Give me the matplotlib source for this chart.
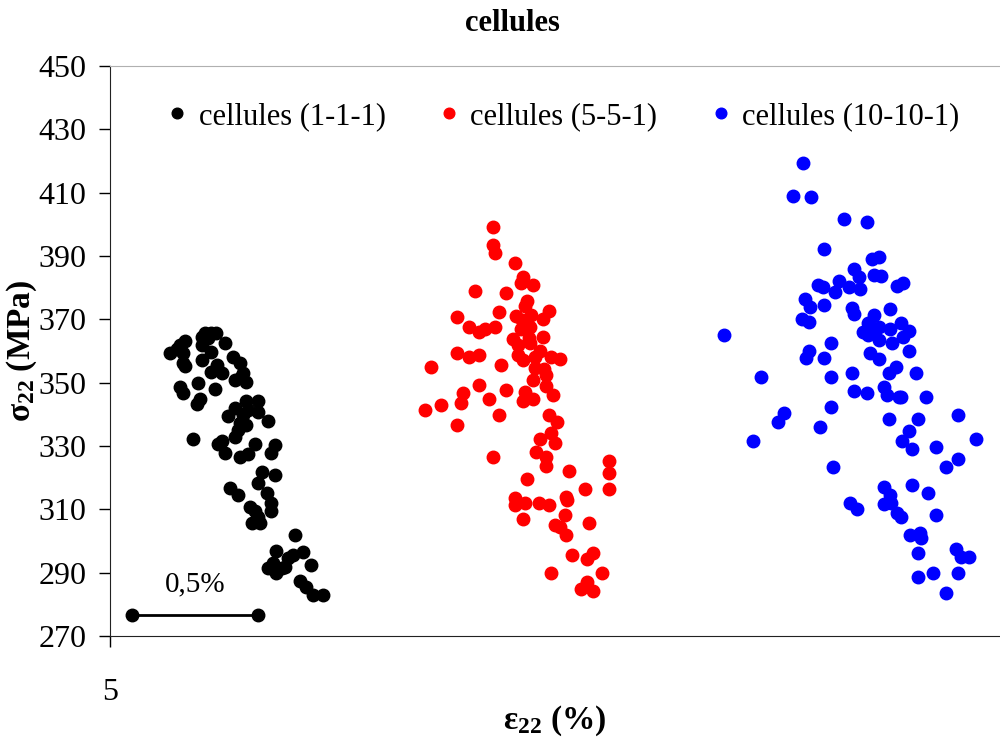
import matplotlib
matplotlib.use("Agg")
import matplotlib.pyplot as plt

plt.rcParams['font.family'] = ['Liberation Serif', 'DejaVu Serif']
plt.rcParams['mathtext.fontset'] = 'custom'
plt.rcParams['mathtext.rm'] = 'Liberation Serif'
plt.rcParams['mathtext.bf'] = 'Liberation Serif:bold'

# cellules (1-1-1)
x_111 = [5.377, 5.403, 5.421, 5.364, 5.390, 5.456, 5.298, 5.278, 5.238, 5.288,
         5.265, 5.364, 5.403, 5.364, 5.291, 5.298, 5.489, 5.516, 5.423, 5.403,
         5.443, 5.529, 5.496, 5.542, 5.522, 5.350, 5.417, 5.278, 5.288, 5.357,
         5.344, 5.542, 5.589, 5.496, 5.470, 5.549, 5.589, 5.628, 5.516, 5.542,
         5.509, 5.496, 5.443, 5.331, 5.430, 5.456, 5.516, 5.549, 5.575, 5.655,
         5.641, 5.602, 5.655, 5.476, 5.589, 5.509, 5.556, 5.622, 5.641, 5.575,
         5.641, 5.562, 5.595, 5.589, 5.734, 5.661, 5.727, 5.767, 5.708, 5.628,
         5.648, 5.694, 5.800, 5.661, 5.754, 5.780, 5.807, 5.847, 5.681, 5.529]
y_111 = [365.6, 365.8, 365.6, 364.5, 364.0, 362.6, 363.3, 361.9, 359.5, 359.3,
         360.5, 361.9, 359.8, 357.2, 356.1, 355.3, 358.2, 356.3, 355.6, 353.5,
         352.9, 352.9, 350.8, 350.3, 351.9, 350.0, 347.9, 348.5, 346.6, 344.7,
         343.3, 344.3, 344.3, 341.9, 339.3, 341.4, 340.8, 338.0, 337.2, 336.6,
         335.1, 332.9, 331.7, 332.1, 330.6, 327.7, 326.6, 327.5, 330.6, 330.3,
         327.7, 321.9, 320.8, 316.6, 318.4, 314.5, 310.8, 315.1, 311.9, 309.3,
         309.3, 305.6, 305.6, 307.7, 301.9, 296.9, 295.6, 296.6, 294.5, 291.4,
         292.9, 291.9, 292.4, 289.8, 287.2, 285.6, 283.0, 283.0, 291.4, 339.8]

# cellules (5-5-1)
x_551 = [6.521, 6.521, 6.528, 6.607, 6.640, 6.630, 6.680, 6.449, 6.574, 6.654,
         6.647, 6.545, 6.742, 6.379, 6.614, 6.673, 6.720, 6.634, 6.425, 6.464,
         6.488, 6.528, 6.630, 6.667, 6.601, 6.664, 6.720, 6.621, 6.667, 6.379,
         6.425, 6.466, 6.621, 6.640, 6.707, 6.687, 6.753, 6.786, 6.274, 6.552,
         6.687, 6.722, 6.730, 6.680, 6.733, 6.759, 6.464, 6.402, 6.574, 6.647,
         6.640, 6.680, 6.393, 6.314, 6.504, 6.250,
         6.379, 6.544, 6.742, 6.773, 6.753, 6.709, 6.766, 6.693, 6.733, 6.733,
         6.521, 6.823, 6.980, 6.980, 6.654, 6.885, 6.980, 6.607, 6.607, 6.647,
         6.704, 6.744, 6.812, 6.815, 6.640, 6.806, 6.766, 6.786, 6.812, 6.901,
         6.836, 6.916, 6.894, 6.750, 6.955, 6.894, 6.869, 6.918]
y_551 = [399.1, 393.5, 390.9, 387.7, 383.5, 381.4, 380.9, 379.0, 378.2, 375.8,
         374.2, 372.4, 372.6, 370.6, 371.2, 371.3, 370.0, 369.8, 367.5, 366.1,
         366.9, 367.5, 366.9, 367.5, 363.8, 364.0, 364.4, 361.9, 362.4, 359.3,
         358.0, 358.7, 358.7, 357.2, 360.1, 358.0, 358.0, 357.4, 354.9, 355.5,
         354.5, 354.2, 352.4, 350.9, 349.0, 346.1, 349.3, 346.6, 347.7, 346.9,
         344.3, 344.7, 343.5, 342.9, 344.7, 341.4,
         336.6, 339.8, 339.8, 337.7, 334.0, 332.1, 330.8, 328.2, 326.6, 323.8,
         326.4, 322.0, 325.2, 321.4, 319.5, 316.3, 316.3, 313.5, 311.4, 311.9,
         311.9, 311.3, 314.0, 312.9, 306.8, 308.1, 305.0, 304.3, 301.8, 305.6,
         295.6, 296.1, 294.2, 289.8, 289.8, 286.9, 284.7, 284.1]

# cellules (10-10-1)
x_10101 = [7.751, 7.711, 7.783, 7.916, 8.005, 7.837, 8.026, 8.053, 7.956, 7.973,
           8.035, 8.062, 8.124, 8.148, 7.811, 7.830, 7.894, 7.877, 7.934, 7.980,
           7.758, 7.781, 7.837, 7.947, 7.956, 8.035, 8.099, 7.748, 7.775, 8.009,
           8.053, 7.989, 8.009, 8.035, 8.099, 8.139, 8.172, 8.148, 8.053, 8.106,
           7.440, 7.861, 7.775, 7.764, 7.837, 8.018, 8.053, 8.172, 8.121, 8.095,
           8.201, 7.947, 7.861, 7.583,
           7.956, 8.005, 8.075, 8.084, 8.132, 8.141, 8.240, 7.861, 7.678, 7.654,
           7.821, 7.553, 8.092, 8.210, 8.369, 8.172, 8.145, 8.185, 8.280, 8.439,
           8.369, 8.320, 7.870, 8.075, 8.099, 8.185, 8.250, 7.940, 7.965, 8.075,
           8.102, 8.124, 8.141, 8.280, 8.178, 8.218, 8.221, 8.210, 8.360, 8.379,
           8.410, 8.210, 8.267, 8.369, 8.320]
y_10101 = [419.3, 409.0, 408.5, 401.6, 400.8, 392.1, 388.9, 389.6, 385.8, 383.3,
           384.0, 383.8, 380.6, 381.4, 380.7, 380.1, 382.1, 378.7, 380.1, 379.5,
           376.3, 373.8, 374.5, 373.5, 371.7, 371.4, 373.2, 370.0, 369.3, 368.9,
           367.7, 366.1, 365.0, 366.1, 366.8, 368.9, 366.2, 364.3, 363.5, 362.4,
           364.9, 362.4, 360.1, 357.7, 357.9, 359.5, 357.4, 359.9, 354.8, 352.9,
           352.9, 352.9, 351.7, 351.7,
           347.2, 346.6, 348.7, 346.1, 345.4, 345.4, 345.4, 342.2, 340.3, 337.7,
           335.9, 331.5, 338.4, 338.4, 339.7, 334.6, 331.5, 328.9, 329.6, 332.1,
           325.8, 323.3, 323.3, 316.9, 314.5, 317.6, 315.1, 311.9, 310.0, 311.7,
           311.9, 308.7, 307.5, 308.1, 301.9, 302.4, 300.8, 296.1, 297.4, 294.8,
           294.8, 288.5, 289.8, 289.8, 283.5]

# 0,5% scale bar
bar_x = [5.087, 5.587]
bar_y = [276.6, 276.6]

fig = plt.figure(figsize=(10, 7.42), dpi=100)
ax = fig.add_axes([0.11, 0.143, 0.889, 0.768])

ms = 9
ax.plot(x_111, y_111, 'o', color='black', ms=ms, ls='none', label='cellules (1-1-1)')
ax.plot(x_551, y_551, 'o', color='red', ms=ms, ls='none', label='cellules (5-5-1)')
ax.plot(x_10101, y_10101, 'o', color='blue', ms=ms, ls='none', label='cellules (10-10-1)')

ax.plot(bar_x, bar_y, '-o', color='black', ms=ms, lw=2)
ax.text(sum(bar_x) / 2, 286.4, '0,5%', ha='center', va='center', fontsize=21)

ax.set_xlim(5, 8.53)
ax.set_ylim(270, 450)
ax.set_yticks(range(270, 451, 20))
ax.set_xticks([5])
ax.tick_params(axis='both', labelsize=23, direction='out', length=8, width=1)
ax.tick_params(axis='y', pad=9)
ax.tick_params(axis='x', pad=22)

ax.spines['right'].set_visible(False)
ax.spines['top'].set_color('#b0b0b0')
ax.spines['left'].set_color('#222222')
ax.spines['bottom'].set_color('#222222')

ax.set_xlabel(r'$\mathbf{ε_{22}}$ (%)', fontsize=24, fontweight='bold')
ax.xaxis.set_label_coords(0.5, -0.118)
ax.set_ylabel(r'$\mathbf{σ_{22}}$ (MPa)', fontsize=24, fontweight='bold')
ax.yaxis.set_label_coords(-0.08, 0.5)

fig.text(0.512, 0.968, 'cellules', ha='center', va='center', fontsize=22, fontweight='bold')

ax.legend(loc='upper center', bbox_to_anchor=(0.507, 0.985), ncol=3, frameon=False,
          fontsize=22, markerscale=0.85, handletextpad=0.2, columnspacing=1.57,
          handlelength=1.0)

fig.savefig('out.png', dpi=100)
